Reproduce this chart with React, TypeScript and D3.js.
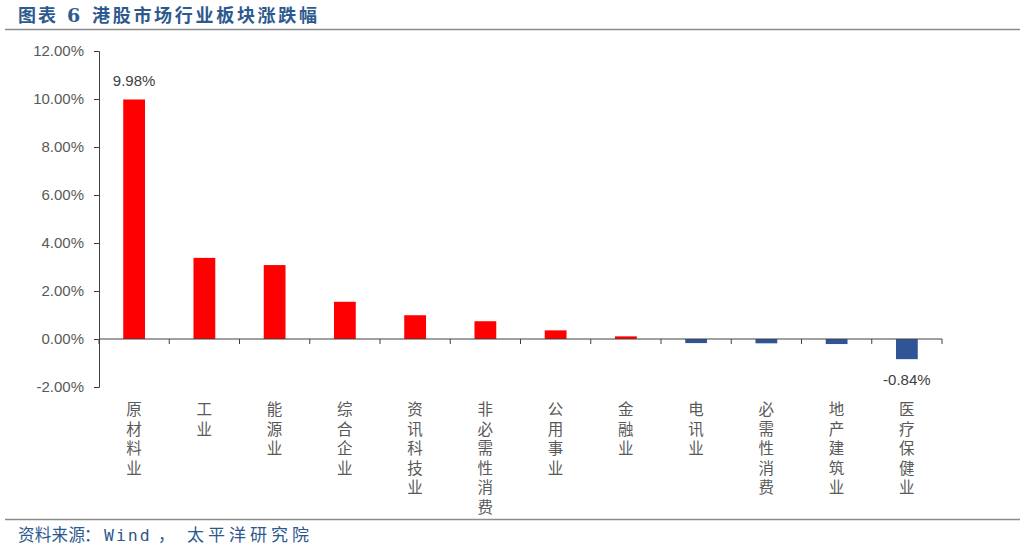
import { useEffect, useRef } from "react";
import * as d3 from "d3";

const categories = [
  "原材料业",
  "工业",
  "能源业",
  "综合企业",
  "资讯科技业",
  "非必需性消费",
  "公用事业",
  "金融业",
  "电讯业",
  "必需性消费",
  "地产建筑业",
  "医疗保健业",
];
const values = [9.98, 3.38, 3.08, 1.55, 0.99, 0.74, 0.36, 0.11, -0.17, -0.18, -0.21, -0.84];
const yTicks = [-2, 0, 2, 4, 6, 8, 10, 12];
const labelled = ["原材料业", "医疗保健业"];

const App = () => {
  const chartRef = useRef<SVGSVGElement>(null);

  useEffect(() => {
    const svg = d3.select(chartRef.current);
    svg.selectAll("*").remove();

    const left = 99;
    const right = 942;
    const top = 51;
    const bottom = 387;

    const x = d3.scaleBand().domain(categories).range([left, right]).paddingInner(0.69).paddingOuter(0.345);
    const y = d3.scaleLinear().domain([-2, 12]).range([bottom, top]);
    const band = (right - left) / categories.length;

    // title
    const title = svg
      .append("text")
      .attr("y", 22)
      .attr("font-family", "Noto Sans CJK SC")
      .attr("font-weight", "bold")
      .attr("font-size", 18)
      .attr("fill", "#2D5A8E");
    title.append("tspan").attr("x", 18).attr("letter-spacing", 2).text("图表");
    title.append("tspan").attr("x", 67).attr("font-family", "DejaVu Serif").attr("font-size", 19).text("6");
    title.append("tspan").attr("x", 92).attr("letter-spacing", 2.7).text("港股市场行业板块涨跌幅");
    svg.append("line").attr("x1", 5).attr("x2", 1020).attr("y1", 29.5).attr("y2", 29.5).attr("stroke", "#8c8c8c").attr("stroke-width", 1.5);

    // bars
    svg
      .selectAll(".bar")
      .data(values)
      .enter()
      .append("rect")
      .attr("x", (_, i) => x(categories[i])!)
      .attr("width", x.bandwidth())
      .attr("y", (d) => y(Math.max(0, d)))
      .attr("height", (d) => Math.abs(y(d) - y(0)))
      .attr("fill", (d) => (d >= 0 ? "#FF0000" : "#2F5597"));

    // y axis
    const yAxis = svg
      .append("g")
      .attr("transform", `translate(${left},0)`)
      .call(
        d3
          .axisLeft(y)
          .tickValues(yTicks)
          .tickSize(5)
          .tickPadding(10)
          .tickFormat((d) => `${(+d).toFixed(2)}%`)
      );
    yAxis.select(".domain").attr("stroke", "#404040");
    yAxis.selectAll(".tick line").attr("stroke", "#404040");
    yAxis
      .selectAll(".tick text")
      .attr("font-family", "Liberation Sans, Arial, sans-serif")
      .attr("font-size", 15)
      .attr("fill", "#595959");

    // x axis at zero
    const xg = svg.append("g").attr("transform", `translate(0,${y(0)})`);
    xg.append("line").attr("x1", left).attr("x2", right).attr("stroke", "#404040");
    xg.selectAll(".xt")
      .data(d3.range(categories.length + 1))
      .enter()
      .append("line")
      .attr("x1", (i) => left + i * band)
      .attr("x2", (i) => left + i * band)
      .attr("y1", 0)
      .attr("y2", 5)
      .attr("stroke", "#404040");

    // category labels, one character per line
    categories.forEach((c) => {
      const cx = x(c)! + x.bandwidth() / 2;
      Array.from(c).forEach((ch, k) => {
        svg
          .append("text")
          .attr("x", cx)
          .attr("y", 415 + k * 19.5)
          .attr("text-anchor", "middle")
          .attr("font-family", "Noto Sans CJK SC")
          .attr("font-size", 15.5)
          .attr("fill", "#595959")
          .text(ch);
      });
    });

    // data labels
    svg
      .selectAll(".dl")
      .data(values.filter((_, i) => labelled.includes(categories[i])))
      .enter()
      .append("text")
      .attr("x", (d) => x(categories[values.indexOf(d)])! + x.bandwidth() / 2)
      .attr("y", (d) => (d >= 0 ? y(d) - 13 : y(d) + 26))
      .attr("text-anchor", "middle")
      .attr("font-family", "Liberation Sans, Arial, sans-serif")
      .attr("font-size", 15)
      .attr("fill", "#404040")
      .text((d) => `${d.toFixed(2)}%`);

    // source
    svg.append("line").attr("x1", 5).attr("x2", 1020).attr("y1", 519.5).attr("y2", 519.5).attr("stroke", "#8c8c8c").attr("stroke-width", 1.5);
    const src = svg
      .append("text")
      .attr("y", 541)
      .attr("font-family", "Noto Sans CJK SC")
      .attr("font-size", 16.5)
      .attr("fill", "#2D5A8E");
    src.append("tspan").attr("x", 18).attr("letter-spacing", 0.3).text("资料来源");
    src.append("tspan").attr("x", 84).text("：");
    src.append("tspan").attr("x", 104).attr("font-family", "DejaVu Sans Mono").attr("letter-spacing", 2).text("Wind");
    src.append("tspan").attr("x", 158).text("，");
    src.append("tspan").attr("x", 187).attr("font-size", 17).attr("letter-spacing", 4).text("太平洋研究院");
  }, []);

  return (
    <svg
      ref={chartRef}
      width={1026}
      height={550}
      style={{ position: "absolute", left: 0, top: 0, background: "#fff" }}
    ></svg>
  );
};

export default App;
